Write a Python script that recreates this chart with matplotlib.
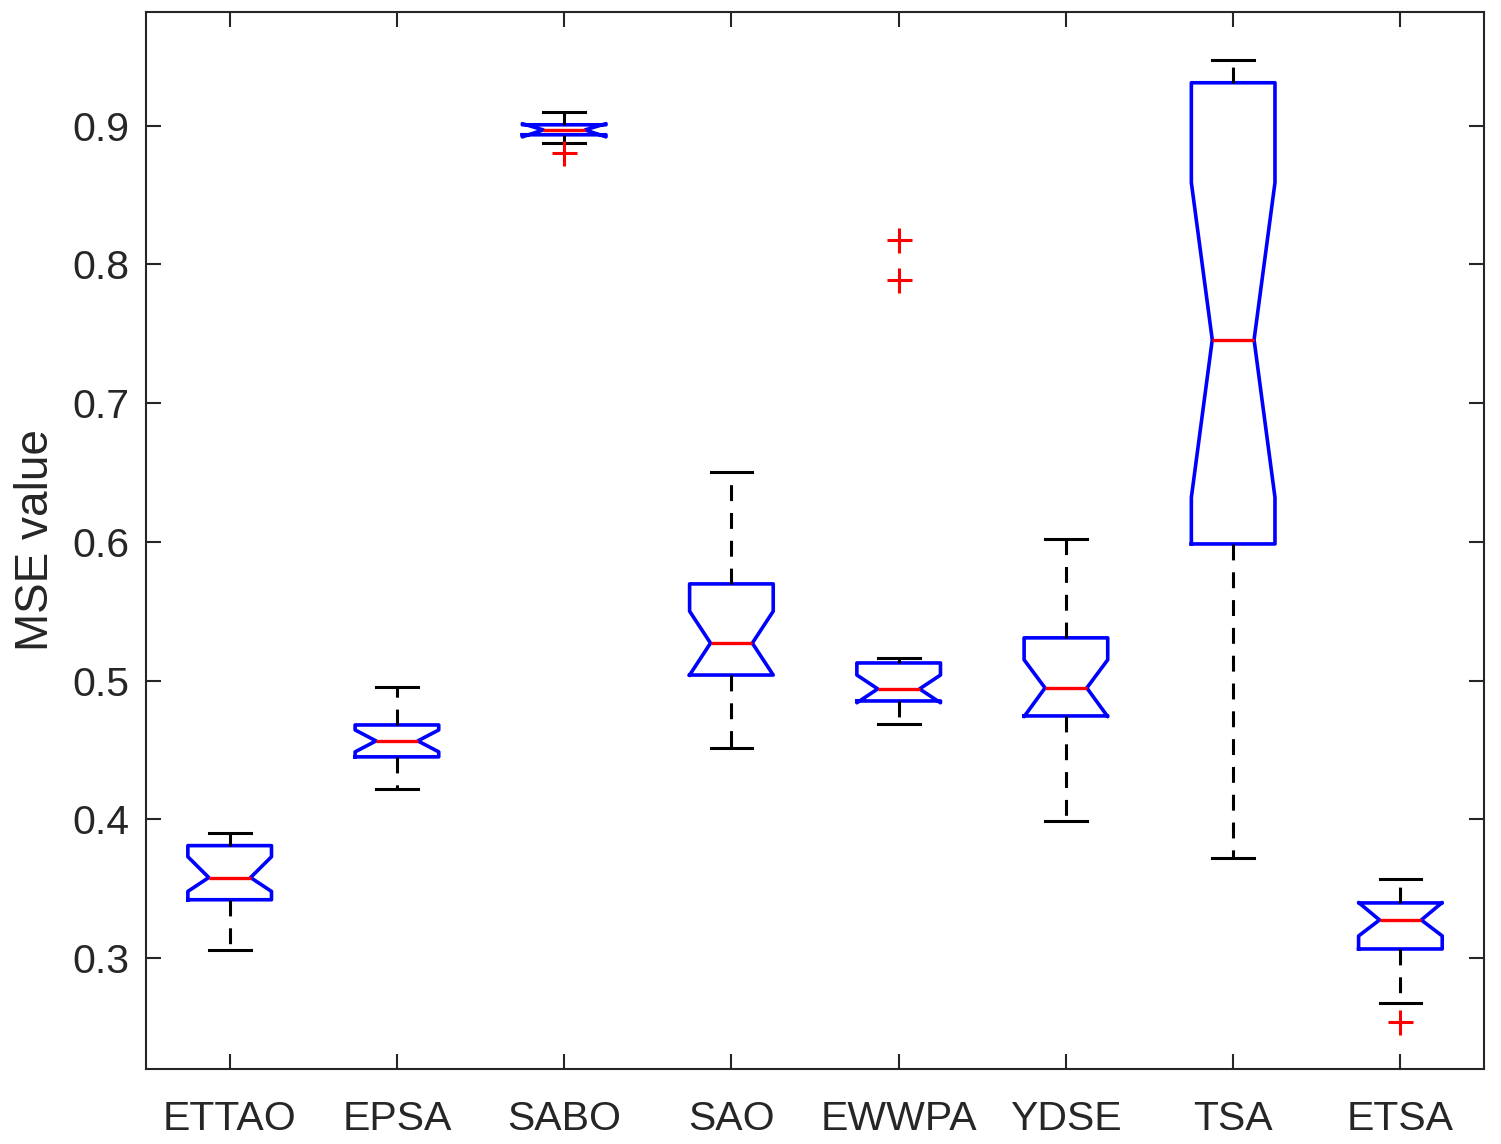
import numpy as np
import matplotlib
matplotlib.use('Agg')
import matplotlib.pyplot as plt

plt.rc('font', **{'family': 'sans-serif', 'sans-serif': ['Liberation Sans', 'DejaVu Sans']})

# values
names = ['ETTAO', 'EPSA', 'SABO', 'SAO', 'EWWPA', 'YDSE', 'TSA', 'ETSA']
med    = [0.358, 0.4565, 0.897, 0.527, 0.494, 0.4947, 0.7457, 0.3274]
q1     = [0.342, 0.445, 0.8935, 0.504, 0.4853, 0.4745, 0.5985, 0.3065]
q3     = [0.381, 0.468, 0.9007, 0.5697, 0.5127, 0.5308, 0.931, 0.3397]
cilo   = [0.348, 0.4486, 0.892, 0.504, 0.484, 0.474, 0.632, 0.3159]
cihi   = [0.373, 0.4644, 0.9015, 0.550, 0.504, 0.515, 0.859, 0.3400]
whislo = [0.306, 0.4219, 0.8877, 0.4514, 0.4688, 0.3988, 0.3721, 0.2675]
whishi = [0.390, 0.4954, 0.910, 0.6505, 0.5163, 0.6022, 0.9476, 0.357]
fliers = [[], [], [0.880], [], [0.8178, 0.789], [], [], [0.2538]]

stats = []
for i in range(len(names)):
    stats.append(dict(med=med[i], q1=q1[i], q3=q3[i], cilo=cilo[i], cihi=cihi[i],
                      whislo=whislo[i], whishi=whishi[i], fliers=fliers[i], label=names[i]))

fig = plt.figure(figsize=(15.01, 11.44), dpi=100)
ax = fig.add_axes([0.0973, 0.0656, 0.8914, 0.9239])

ax.bxp(stats, positions=np.arange(1, 9), widths=0.5, shownotches=True,
       boxprops=dict(color='#0000ff', linewidth=2.6),
       medianprops=dict(color='#ff0000', linewidth=2.4),
       whiskerprops=dict(color='k', linewidth=2.2, linestyle=(0, (5.2, 3.9))),
       capprops=dict(color='k', linewidth=2.2),
       flierprops=dict(marker='+', markeredgecolor='#ff0000', markersize=18,
                       markeredgewidth=2.2, linestyle='none'))

ax.set_xlim(0.5, 8.5)
ax.set_ylim(0.22, 0.982)
ax.set_yticks([0.3, 0.4, 0.5, 0.6, 0.7, 0.8, 0.9])
ax.set_yticklabels(['0.3', '0.4', '0.5', '0.6', '0.7', '0.8', '0.9'])
ax.set_xticks(np.arange(1, 9))
ax.set_xticklabels(names)
ax.tick_params(direction='in', length=11, width=1.5, top=True, right=True,
               labelsize=29.5, colors='#262626')
ax.tick_params(axis='x', pad=22)
ax.tick_params(axis='y', pad=12)
for s in ax.spines.values():
    s.set_linewidth(1.5)
    s.set_color('#262626')
ax.set_ylabel('MSE value', fontsize=33, color='#262626', labelpad=10)

fig.savefig('out.png', dpi=100)
